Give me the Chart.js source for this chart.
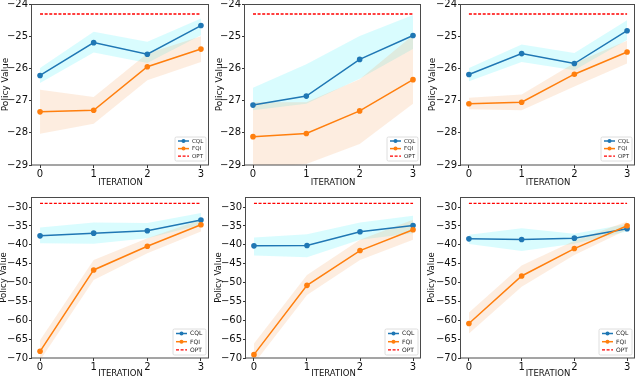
<!DOCTYPE html>
<html><head><meta charset="utf-8">
<script src="https://cdn.jsdelivr.net/npm/chart.js@4/dist/chart.umd.min.js"></script>
<style>
html,body{margin:0;padding:0;background:#fff;width:640px;height:380px;overflow:hidden;position:relative}
canvas{position:absolute}
</style></head><body>
<script>
// ---------- data ----------
const iterations = [0, 1, 2, 3];
const xTicks = [0, 1, 2, 3];
const yTicksTop = [-29, -28, -27, -26, -25, -24];
const yTicksBottom = [-70, -65, -60, -55, -50, -45, -40, -35, -30];
const seriesNames = ['CQL', 'FQI', 'OPT'];
const xTitle = 'ITERATION';
const yTitle = 'Policy Value';

const cqlMean = [
  [-26.22, -25.20, -25.56, -24.67],
  [-27.14, -26.86, -25.72, -24.98],
  [-26.19, -25.54, -25.85, -24.83],
  [-37.63, -36.92, -36.30, -33.46],
  [-40.29, -40.20, -36.56, -34.88],
  [-38.43, -38.60, -38.25, -35.76]];
const cqlUpper = [
  [-25.99, -24.86, -25.17, -24.45],
  [-26.60, -25.87, -24.99, -24.34],
  [-25.99, -25.26, -25.52, -24.50],
  [-35.41, -34.08, -34.26, -31.60],
  [-38.07, -37.18, -34.08, -32.31],
  [-37.36, -35.59, -37.10, -34.52]];
const cqlLower = [
  [-26.45, -25.51, -25.83, -24.97],
  [-27.30, -27.10, -26.32, -25.40],
  [-26.40, -25.80, -26.06, -25.12],
  [-39.58, -39.76, -38.25, -34.70],
  [-42.86, -43.30, -38.69, -36.92],
  [-39.76, -41.62, -39.76, -36.47]];
const fqiMean = [
  [-27.35, -27.30, -25.95, -25.40],
  [-28.12, -28.02, -27.32, -26.35],
  [-27.10, -27.05, -26.18, -25.49],
  [-68.23, -46.67, -40.38, -34.70],
  [-69.11, -50.75, -41.53, -36.03],
  [-60.86, -48.27, -41.00, -34.97]];
const fqiUpper = [
  [-26.66, -26.89, -25.54, -25.00],
  [-27.05, -27.05, -26.34, -24.97],
  [-26.91, -26.81, -25.83, -25.14],
  [-65.30, -44.01, -38.25, -33.37],
  [-66.19, -48.00, -38.69, -33.37],
  [-57.94, -45.52, -38.96, -33.81]];
const fqiLower = [
  [-28.03, -27.72, -26.37, -25.80],
  [-29.10, -28.97, -28.35, -27.10],
  [-27.27, -27.30, -26.56, -25.85],
  [-70.60, -49.33, -42.24, -36.47],
  [-71.50, -53.33, -44.01, -38.69],
  [-63.53, -51.11, -42.68, -36.03]];
const optValue = [-24.31, -24.31, -24.31, -29.02, -29.02, -29.02];

// ---------- layout / style ----------
const layoutCfg = [
  {frame: [32, 4, 210, 165], titleX: 5, bottom: 188, row: 0},
  {frame: [245, 4, 422, 165], titleX: 219, bottom: 188, row: 0},
  {frame: [461, 4, 636, 165], titleX: 432, bottom: 188, row: 0},
  {frame: [32, 197, 210, 358], titleX: 4, bottom: 380, row: 1},
  {frame: [246, 197, 422, 358], titleX: 219, bottom: 380, row: 1},
  {frame: [461, 197, 636, 358], titleX: 432, bottom: 380, row: 1}];
const rowRange = [{min: -29, max: -24}, {min: -70, max: -27.34}];
const rowTicks = [yTicksTop, yTicksBottom];

const C_BLUE = '#1f77b4', C_ORANGE = '#ff7f0e', C_RED = '#ff0000';
const FILL_CYAN = 'rgba(0,235,245,0.15)', FILL_ORANGE = 'rgba(245,150,70,0.17)';
const FONT = "'DejaVu Sans', sans-serif";

const fmt = v => (v < 0 ? '\u2212' : '') + Math.abs(v);

const framePlugin = {
  id: 'frameBox',
  afterDatasetsDraw(chart) {
    const a = chart.chartArea, ctx = chart.ctx;
    ctx.save();
    ctx.strokeStyle = '#4a4a4a';
    ctx.lineWidth = 1;
    ctx.strokeRect(Math.round(a.left) - 0.5, Math.round(a.top) + 0.5, Math.round(a.right - a.left), Math.round(a.bottom - a.top) - 0.5);
    ctx.restore();
  }
};

const legendPlugin = {
  id: 'insetLegend',
  afterDraw(chart, args, opts) {
    const ctx = chart.ctx, a = chart.chartArea;
    const items = chart.data.datasets.filter(d => d.inLegend);
    const w = opts.width, h = opts.height;
    const x0 = a.right - opts.right - w, y0 = a.bottom - opts.bottom - h;
    ctx.save();
    ctx.beginPath();
    const r = 1.5;
    ctx.moveTo(x0 + r, y0);
    ctx.arcTo(x0 + w, y0, x0 + w, y0 + h, r);
    ctx.arcTo(x0 + w, y0 + h, x0, y0 + h, r);
    ctx.arcTo(x0, y0 + h, x0, y0, r);
    ctx.arcTo(x0, y0, x0 + w, y0, r);
    ctx.closePath();
    ctx.fillStyle = 'rgba(255,255,255,0.85)';
    ctx.fill();
    ctx.strokeStyle = '#d6d6d6';
    ctx.lineWidth = 0.8;
    ctx.stroke();
    items.forEach((d, i) => {
      const cy = y0 + opts.rowStart + i * opts.rowGap;
      ctx.beginPath();
      ctx.setLineDash(d.borderDash || []);
      ctx.strokeStyle = d.borderColor;
      ctx.lineWidth = d.borderWidth;
      ctx.moveTo(x0 + 3, cy);
      ctx.lineTo(x0 + 14, cy);
      ctx.stroke();
      ctx.setLineDash([]);
      if (d.pointRadius > 0) {
        ctx.beginPath();
        ctx.arc(x0 + 8.5, cy, 2, 0, Math.PI * 2);
        ctx.fillStyle = d.borderColor;
        ctx.fill();
      }
      ctx.fillStyle = '#222';
      ctx.font = opts.fontSize + 'px ' + FONT;
      ctx.textBaseline = 'middle';
      ctx.textAlign = 'left';
      ctx.fillText(d.label, x0 + 17, cy + 0.3);
    });
    ctx.restore();
  }
};

function pts(arr) { return iterations.map((x, i) => ({x: x, y: arr[i]})); }

function makeChart(p) {
  const L = layoutCfg[p];
  const left = L.titleX - 5, top = L.frame[1] - 8, right = L.frame[2] + 3, bottom = L.bottom;
  const canvas = document.createElement('canvas');
  canvas.width = right - left; canvas.height = bottom - top;
  canvas.style.left = left + 'px'; canvas.style.top = top + 'px';
  canvas.style.width = (right - left) + 'px'; canvas.style.height = (bottom - top) + 'px';
  document.body.appendChild(canvas);
  const yW = L.frame[0] - left, xH = bottom - L.frame[3];
  const rng = rowRange[L.row];
  const yt = rowTicks[L.row];
  const opt = iterations.map(() => optValue[p]);

  new Chart(canvas, {
    type: 'line',
    data: {
      datasets: [
        {label: seriesNames[0], data: pts(cqlMean[p]), borderColor: C_BLUE, backgroundColor: C_BLUE,
         borderWidth: 1.5, pointRadius: 2.8, pointBorderWidth: 0, fill: false, order: 2, inLegend: true},
        {label: seriesNames[1], data: pts(fqiMean[p]), borderColor: C_ORANGE, backgroundColor: C_ORANGE,
         borderWidth: 1.5, pointRadius: 2.8, pointBorderWidth: 0, fill: false, order: 1, inLegend: true},
        {label: seriesNames[2], data: pts(opt), borderColor: C_RED, borderWidth: 1.3, borderDash: [3, 1.6],
         pointRadius: 0, fill: false, order: 0, inLegend: true},
        {label: 'CQL upper', data: pts(cqlUpper[p]), borderWidth: 0, pointRadius: 0,
         backgroundColor: FILL_CYAN, fill: '+1', order: 6},
        {label: 'CQL lower', data: pts(cqlLower[p]), borderWidth: 0, pointRadius: 0, fill: false, order: 6},
        {label: 'FQI upper', data: pts(fqiUpper[p]), borderWidth: 0, pointRadius: 0,
         backgroundColor: FILL_ORANGE, fill: '+1', order: 5},
        {label: 'FQI lower', data: pts(fqiLower[p]), borderWidth: 0, pointRadius: 0, fill: false, order: 5}
      ]
    },
    options: {
      responsive: false,
      animation: false,
      devicePixelRatio: 1,
      layout: {padding: {top: 8, right: 3, left: 0, bottom: 0}},
      plugins: {
        legend: {display: false},
        tooltip: {enabled: false},
        insetLegend: L.row === 0
          ? {width: 31, height: 24, right: 3, bottom: 4, rowStart: 4, rowGap: 7.6, fontSize: 5.5}
          : {width: 33, height: 26, right: 3, bottom: 3, rowStart: 4.5, rowGap: 8.2, fontSize: 6}
      },
      scales: {
        x: {
          type: 'linear', min: -0.15, max: 3.15,
          afterBuildTicks: ax => { ax.ticks = xTicks.map(v => ({value: v})); },
          afterFit: ax => { ax.height = xH; },
          grid: {drawOnChartArea: false, drawTicks: true, tickLength: 3, tickColor: '#333', tickWidth: 1},
          border: {display: false},
          ticks: {color: '#111', font: {family: FONT, size: 10}, padding: 0, maxRotation: 0,
                  callback: v => fmt(v)},
          title: {display: true, text: xTitle, color: '#111', font: {family: FONT, size: 8.5},
                  padding: {top: 0, bottom: L.row === 0 ? 0 : 1}}
        },
        y: {
          type: 'linear', min: rng.min, max: rng.max,
          afterBuildTicks: ax => { ax.ticks = yt.map(v => ({value: v})); },
          afterFit: ax => { ax.width = yW; },
          grid: {drawOnChartArea: false, drawTicks: true, tickLength: 3, tickColor: '#333', tickWidth: 1},
          border: {display: false},
          ticks: {color: '#111', font: {family: FONT, size: 10}, padding: 1, callback: v => fmt(v)},
          title: {display: true, text: yTitle, color: '#111', font: {family: FONT, size: L.row === 0 ? 9 : 8.5},
                  padding: {top: 0, bottom: 0}}
        }
      }
    },
    plugins: [framePlugin, legendPlugin]
  });
}

for (let p = 0; p < 6; p++) makeChart(p);
</script>
</body></html>
